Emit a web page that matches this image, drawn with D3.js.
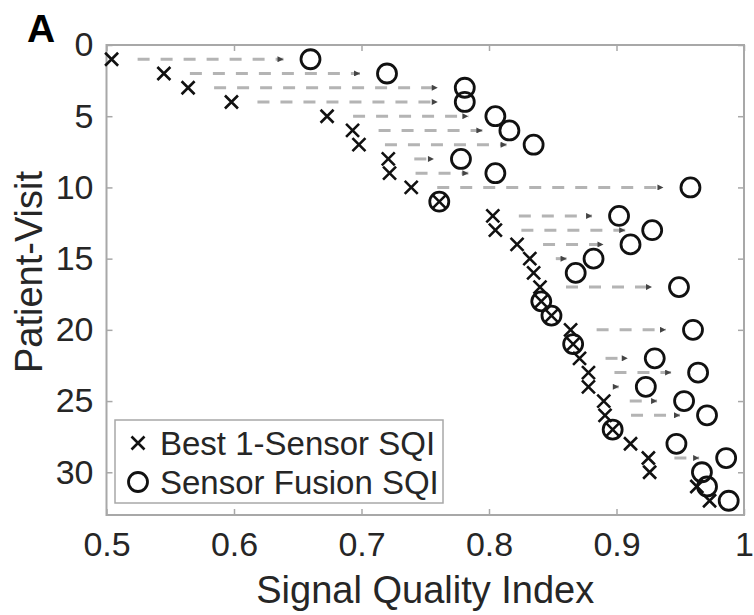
<!DOCTYPE html>
<html>
<head>
<meta charset="utf-8">
<script src="https://cdn.jsdelivr.net/npm/d3@7"></script>
<style>
  body { margin: 0; background: #fff; }
  svg text { font-family: "Liberation Sans", Arial, Helvetica, sans-serif; }
</style>
</head>
<body>
<div id="chart"></div>
<script>
// patient-visit index (rows of the plot)
var visits = [1, 2, 3, 4, 5, 6, 7, 8, 9, 10, 11, 12, 13, 14, 15, 16,
              17, 18, 19, 20, 21, 22, 23, 24, 25, 26, 27, 28, 29, 30, 31, 32];
// best single-sensor SQI per visit
var bestSQI = [0.504, 0.545, 0.564, 0.598, 0.673, 0.693, 0.698, 0.721, 0.722, 0.739, 0.761,
               0.803, 0.805, 0.822, 0.832, 0.835, 0.840, 0.841, 0.849, 0.864, 0.866,
               0.871, 0.878, 0.878, 0.890, 0.891, 0.897, 0.911, 0.925, 0.926, 0.963, 0.973];
// sensor fusion SQI per visit
var fusionSQI = [0.660, 0.720, 0.781, 0.781, 0.805, 0.816, 0.835, 0.778, 0.805, 0.958, 0.761,
                 0.902, 0.928, 0.911, 0.882, 0.868, 0.949, 0.841, 0.849, 0.960, 0.866,
                 0.930, 0.964, 0.923, 0.953, 0.971, 0.897, 0.947, 0.986, 0.967, 0.971, 0.988];

var xTicks = [0.5, 0.6, 0.7, 0.8, 0.9, 1];
var xTickLabels = ["0.5", "0.6", "0.7", "0.8", "0.9", "1"];
var yTicks = [0, 5, 10, 15, 20, 25, 30];
var legendNames = ["Best 1-Sensor SQI", "Sensor Fusion SQI"];

var W = 754, H = 615;
var margin = { top: 45, right: 10, bottom: 100, left: 106.5 };
var width = 744 - margin.left;
var height = 515 - margin.top;

var svg = d3.select("#chart").append("svg")
    .attr("width", W)
    .attr("height", H);

var g = svg.append("g")
    .attr("transform", "translate(" + margin.left + "," + margin.top + ")");

var x = d3.scaleLinear().domain([0.5, 1]).range([0, width]);
var y = d3.scaleLinear().domain([0, 33]).range([0, height]);

var rows = visits.map(function(v, i) {
    return { v: v, best: bestSQI[i], fusion: fusionSQI[i] };
});

// arrow head
svg.append("defs").append("marker")
    .attr("id", "head")
    .attr("markerUnits", "userSpaceOnUse")
    .attr("viewBox", "0 0 10 10")
    .attr("refX", 10).attr("refY", 5)
    .attr("markerWidth", 7).attr("markerHeight", 6)
    .attr("orient", "auto")
  .append("path")
    .attr("d", "M0,0L10,5L0,10z")
    .attr("fill", "#444");

// frame + axes
var gridColor = "#a8a8a8";
function styleAxis(sel) {
    sel.select(".domain").remove();
    sel.selectAll(".tick line").attr("stroke", gridColor).attr("stroke-width", 1.5);
    sel.selectAll(".tick text").attr("fill", "#262626").style("font-size", "34px");
}

g.append("g")
    .attr("transform", "translate(0," + height + ")")
    .call(d3.axisBottom(x).tickValues(xTicks).tickSize(-6).tickPadding(17)
        .tickFormat(function(d, i) { return xTickLabels[i]; }))
    .call(styleAxis);

g.append("g")
    .call(d3.axisTop(x).tickValues(xTicks).tickSize(-6).tickFormat(""))
    .call(styleAxis);

g.append("g")
    .call(d3.axisLeft(y).tickValues(yTicks).tickSize(-6).tickPadding(13))
    .call(styleAxis);

g.append("g")
    .attr("transform", "translate(" + width + ",0)")
    .call(d3.axisRight(y).tickValues(yTicks).tickSize(-6).tickFormat(""))
    .call(styleAxis);

g.append("rect")
    .attr("x", 0).attr("y", 0)
    .attr("width", width).attr("height", height)
    .attr("fill", "none")
    .attr("stroke", gridColor)
    .attr("stroke-width", 2);

// dashed arrows from best sensor to fusion
var gap0 = 26, gap1 = 27;
g.selectAll(".arrow")
    .data(rows.filter(function(d) { return x(d.fusion) - x(d.best) > gap0 + gap1 + 4; }))
    .enter().append("line")
    .attr("class", "arrow")
    .attr("x1", function(d) { return x(d.best) + gap0; })
    .attr("x2", function(d) { return x(d.fusion) - gap1; })
    .attr("y1", function(d) { return y(d.v); })
    .attr("y2", function(d) { return y(d.v); })
    .attr("stroke", "#b4b4b4")
    .attr("stroke-width", 3)
    .attr("stroke-dasharray", "12,11")
    .attr("marker-end", "url(#head)");

// X markers
var s = 6.5;
var cross = g.selectAll(".cross").data(rows).enter().append("g")
    .attr("class", "cross")
    .attr("transform", function(d) { return "translate(" + x(d.best) + "," + y(d.v) + ")"; });
cross.append("path")
    .attr("d", "M" + (-s) + "," + (-s) + "L" + s + "," + s + "M" + (-s) + "," + s + "L" + s + "," + (-s))
    .attr("stroke", "#111")
    .attr("stroke-width", 2.6)
    .attr("fill", "none");

// circle markers
g.selectAll(".fus").data(rows).enter().append("circle")
    .attr("class", "fus")
    .attr("cx", function(d) { return x(d.fusion); })
    .attr("cy", function(d) { return y(d.v); })
    .attr("r", 9.5)
    .attr("fill", "none")
    .attr("stroke", "#111")
    .attr("stroke-width", 2.8);

// legend
var lg = svg.append("g").attr("transform", "translate(115,420)");
lg.append("rect")
    .attr("width", 328).attr("height", 83)
    .attr("fill", "#fff")
    .attr("stroke", gridColor)
    .attr("stroke-width", 1.5);
var ly = [23, 62];
var lx = 23;
lg.append("path")
    .attr("d", "M" + (lx - s) + "," + (ly[0] - s) + "L" + (lx + s) + "," + (ly[0] + s) +
               "M" + (lx - s) + "," + (ly[0] + s) + "L" + (lx + s) + "," + (ly[0] - s))
    .attr("stroke", "#111").attr("stroke-width", 2.6);
lg.append("circle")
    .attr("cx", lx).attr("cy", ly[1]).attr("r", 9.5)
    .attr("fill", "none").attr("stroke", "#111").attr("stroke-width", 2.8);
lg.selectAll(".ltxt").data(legendNames).enter().append("text")
    .attr("class", "ltxt")
    .attr("x", 45)
    .attr("y", function(d, i) { return ly[i]; })
    .attr("dy", "0.36em")
    .attr("fill", "#262626")
    .style("font-size", "33px")
    .text(function(d) { return d; });

// axis titles
svg.append("text")
    .attr("x", margin.left + width / 2)
    .attr("y", 603)
    .attr("text-anchor", "middle")
    .attr("fill", "#262626")
    .style("font-size", "38px")
    .text("Signal Quality Index");

svg.append("text")
    .attr("transform", "translate(42," + (margin.top + height / 2 - 8) + ") rotate(-90)")
    .attr("text-anchor", "middle")
    .attr("fill", "#262626")
    .style("font-size", "38px")
    .text("Patient-Visit");

svg.append("text")
    .attr("x", 27)
    .attr("y", 42)
    .attr("fill", "#000")
    .style("font-size", "39px")
    .style("font-weight", "bold")
    .text("A");
</script>
</body>
</html>
